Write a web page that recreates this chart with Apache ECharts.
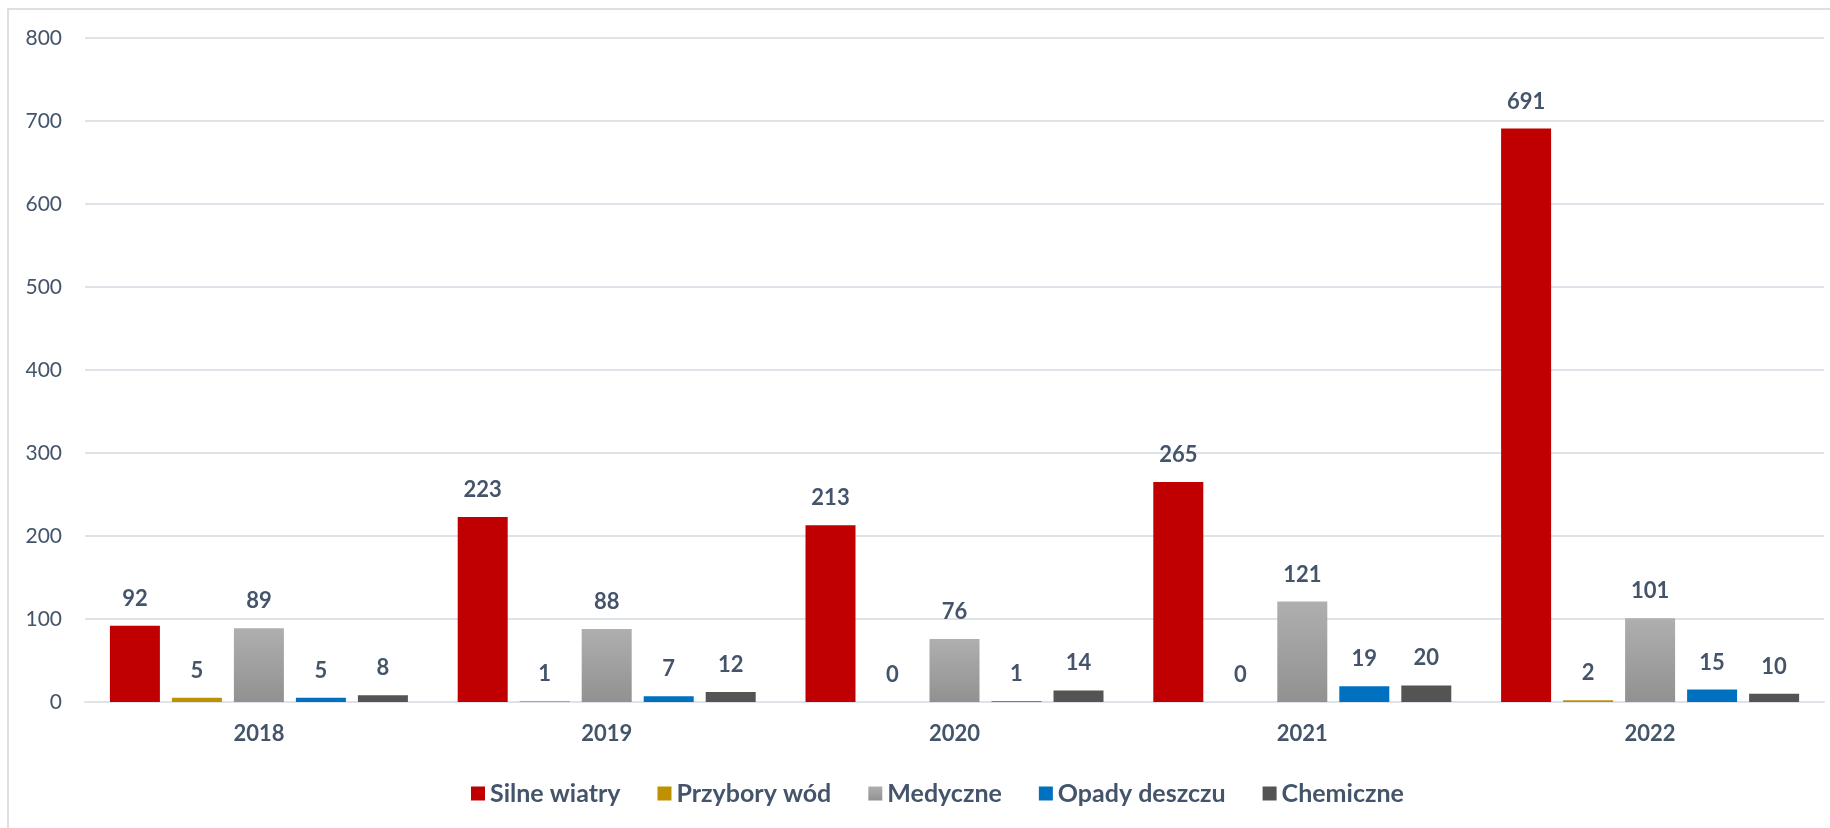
<!DOCTYPE html>
<html>
<head>
<meta charset="utf-8">
<script src="https://cdn.jsdelivr.net/npm/echarts@6/dist/echarts.min.js"></script>
<style>html,body{margin:0;padding:0;background:#fff}#c{width:1830px;height:828px}</style>
</head>
<body>
<div id="c"></div>
<script>
const years = ['2018', '2019', '2020', '2021', '2022'];
const silneWiatry = [92, 223, 213, 265, 691];
const przyboryWod = [5, 1, 0, 0, 2];
const medyczne = [89, 88, 76, 121, 101];
const opadyDeszczu = [5, 7, 1, 19, 15];
const chemiczne = [8, 12, 14, 20, 10];
const yTicks = [0, 100, 200, 300, 400, 500, 600, 700, 800];

const textColor = '#44546A';
const gridColor = '#DEE2E9';
const fontFamily = 'Lato, "Open Sans", sans-serif';

const grayGrad = new echarts.graphic.LinearGradient(0, 0, 0, 1, [
  { offset: 0, color: '#AFAFAF' },
  { offset: 1, color: '#919191' }
]);

function mk(name, data, color) {
  return {
    name: name,
    type: 'bar',
    data: data,
    barWidth: 50,
    barGap: '24%',
    itemStyle: { color: color },
    label: {
      show: true,
      position: 'top',
      distance: 16,
      color: textColor,
      fontWeight: 'bold',
      fontSize: 22,
      fontFamily: fontFamily
    }
  };
}

const chart = echarts.init(document.getElementById('c'), null, { renderer: 'canvas' });
chart.setOption({
  animation: false,
  backgroundColor: '#fff',
  textStyle: { fontFamily: fontFamily },
  graphic: [{
    type: 'rect',
    shape: { x: 8, y: 9, width: 1840, height: 840 },
    style: { fill: 'none', stroke: '#DCE0E6', lineWidth: 2 },
    silent: true,
    z: -1
  }],
  grid: { left: 85, right: 6, top: 38, bottom: 126, outerBoundsMode: 'none', containLabel: false },
  legend: {
    top: 776,
    left: 466,
    itemWidth: 14,
    itemHeight: 14,
    itemGap: 37,
    icon: 'rect',
    textStyle: { color: textColor, fontSize: 25, fontWeight: 'bold', fontFamily: fontFamily },
    data: ['Silne wiatry', 'Przybory wód', 'Medyczne', 'Opady deszczu', 'Chemiczne']
  },
  xAxis: {
    type: 'category',
    data: years,
    axisLine: { show: true, lineStyle: { color: gridColor, width: 2 } },
    axisTick: { show: false },
    axisLabel: { color: textColor, fontSize: 22, fontWeight: 'bold', margin: 21, fontFamily: fontFamily }
  },
  yAxis: {
    type: 'value',
    min: yTicks[0],
    max: yTicks[yTicks.length - 1],
    interval: yTicks[1] - yTicks[0],
    axisLine: { show: false },
    axisTick: { show: false },
    splitLine: { lineStyle: { color: gridColor, width: 2 } },
    axisLabel: { color: textColor, fontSize: 21, margin: 23, fontFamily: fontFamily }
  },
  series: [
    mk('Silne wiatry', silneWiatry, '#C00000'),
    mk('Przybory wód', przyboryWod, '#BF9000'),
    mk('Medyczne', medyczne, grayGrad),
    mk('Opady deszczu', opadyDeszczu, '#0070C0'),
    mk('Chemiczne', chemiczne, '#545454')
  ]
});
</script>
</body>
</html>
